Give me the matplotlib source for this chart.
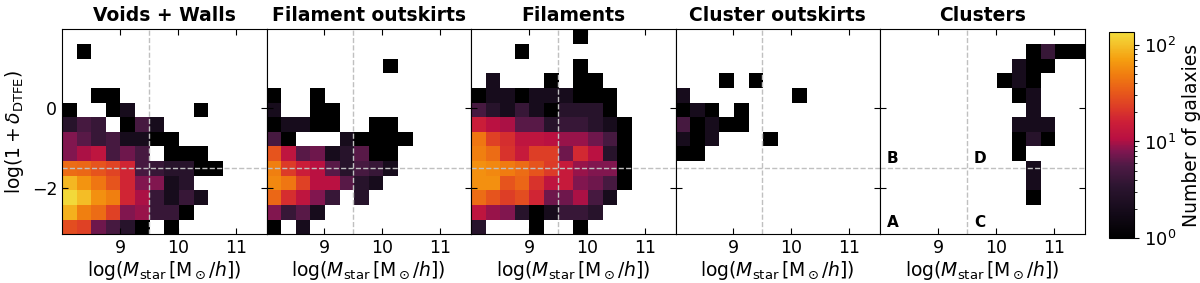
import numpy as np
import matplotlib
matplotlib.use('Agg')
import matplotlib.pyplot as plt
from matplotlib.colors import LogNorm, LinearSegmentedColormap

# panel titles
titles = ['Voids + Walls', 'Filament outskirts', 'Filaments', 'Cluster outskirts', 'Clusters']

# bin edges of the 2d histograms (14 x 14 bins)
mass_lo, mass_hi = 8.0, 11.53
dens_lo, dens_hi = -3.15, 1.975
n_bins = 14

# galaxy counts per bin, rows from top (high density) to bottom, columns low -> high mass
voids_walls = [
    [0, 0, 0, 0, 0, 0, 0, 0, 0, 0, 0, 0, 0, 0],
    [0, 1, 0, 0, 0, 0, 0, 0, 0, 0, 0, 0, 0, 0],
    [0, 0, 0, 0, 0, 0, 0, 0, 0, 0, 0, 0, 0, 0],
    [0, 0, 0, 0, 0, 0, 0, 0, 0, 0, 0, 0, 0, 0],
    [0, 0, 1, 1, 0, 0, 0, 0, 0, 0, 0, 0, 0, 0],
    [1, 0, 0, 1, 2, 0, 0, 0, 0, 1, 0, 0, 0, 0],
    [3, 5, 4, 0, 1, 5, 2, 0, 0, 0, 0, 0, 0, 0],
    [8, 6, 4, 5, 2, 2, 1, 1, 0, 0, 0, 0, 0, 0],
    [8, 10, 12, 5, 7, 5, 0, 1, 1, 1, 0, 0, 0, 0],
    [40, 38, 30, 25, 17, 5, 4, 3, 3, 1, 1, 0, 0, 0],
    [90, 62, 45, 30, 17, 8, 8, 2, 3, 0, 0, 0, 0, 0],
    [130, 95, 60, 50, 17, 10, 4, 2, 4, 2, 0, 0, 0, 0],
    [85, 50, 40, 24, 8, 9, 4, 4, 1, 0, 0, 0, 0, 0],
    [28, 24, 7, 5, 3, 1, 0, 1, 0, 0, 0, 0, 0, 0],
]

filament_outskirts = [
    [0, 0, 0, 0, 0, 0, 0, 0, 0, 0, 0, 0, 0, 0],
    [0, 0, 0, 0, 0, 0, 0, 0, 0, 0, 0, 0, 0, 0],
    [0, 0, 0, 0, 0, 0, 0, 0, 1, 0, 0, 0, 0, 0],
    [0, 0, 0, 0, 0, 0, 0, 0, 0, 0, 0, 0, 0, 0],
    [1, 0, 0, 1, 0, 0, 0, 0, 0, 0, 0, 0, 0, 0],
    [2, 0, 0, 1, 1, 0, 0, 0, 0, 0, 0, 0, 0, 0],
    [1, 2, 2, 1, 1, 0, 0, 1, 1, 0, 0, 0, 0, 0],
    [5, 1, 0, 0, 0, 2, 1, 1, 1, 1, 0, 0, 0, 0],
    [30, 12, 6, 7, 2, 3, 6, 1, 1, 0, 0, 0, 0, 0],
    [50, 22, 15, 11, 6, 3, 5, 4, 2, 0, 0, 0, 0, 0],
    [55, 45, 24, 11, 11, 6, 3, 2, 0, 0, 0, 0, 0, 0],
    [38, 19, 12, 8, 4, 0, 3, 0, 0, 0, 0, 0, 0, 0],
    [8, 4, 6, 2, 0, 0, 0, 0, 0, 0, 0, 0, 0, 0],
    [1, 0, 2, 0, 0, 0, 0, 0, 0, 0, 0, 0, 0, 0],
]

filaments = [
    [0, 0, 0, 0, 0, 0, 0, 1, 0, 0, 0, 0, 0, 0],
    [0, 0, 0, 1, 0, 0, 0, 0, 0, 0, 0, 0, 0, 0],
    [0, 0, 0, 0, 0, 0, 0, 1, 0, 0, 0, 0, 0, 0],
    [0, 2, 0, 0, 0, 1, 0, 1, 1, 0, 0, 0, 0, 0],
    [1, 2, 2, 1, 2, 2, 2, 1, 1, 1, 0, 0, 0, 0],
    [5, 3, 2, 4, 2, 1, 3, 3, 3, 1, 0, 0, 0, 0],
    [15, 11, 10, 6, 6, 3, 4, 4, 3, 2, 1, 0, 0, 0],
    [45, 24, 19, 12, 12, 11, 9, 9, 7, 5, 1, 0, 0, 0],
    [50, 40, 20, 14, 23, 23, 7, 18, 11, 3, 1, 0, 0, 0],
    [60, 55, 48, 40, 30, 22, 14, 9, 8, 8, 1, 0, 0, 0],
    [60, 60, 30, 37, 20, 12, 14, 8, 7, 5, 1, 0, 0, 0],
    [40, 30, 23, 28, 17, 7, 7, 10, 5, 2, 0, 0, 0, 0],
    [12, 9, 8, 3, 1, 2, 4, 4, 3, 0, 0, 0, 0, 0],
    [3, 0, 0, 0, 1, 0, 0, 1, 0, 0, 0, 0, 0, 0],
]

cluster_outskirts = [
    [0, 0, 0, 0, 0, 0, 0, 0, 0, 0, 0, 0, 0, 0],
    [0, 0, 0, 0, 0, 0, 0, 0, 0, 0, 0, 0, 0, 0],
    [0, 0, 0, 0, 0, 0, 0, 0, 0, 0, 0, 0, 0, 0],
    [0, 0, 0, 1, 0, 1, 0, 0, 0, 0, 0, 0, 0, 0],
    [2, 0, 0, 0, 0, 0, 0, 0, 1, 0, 0, 0, 0, 0],
    [1, 2, 1, 0, 1, 0, 0, 0, 0, 0, 0, 0, 0, 0],
    [5, 1, 2, 1, 1, 0, 0, 0, 0, 0, 0, 0, 0, 0],
    [2, 1, 2, 0, 0, 0, 1, 0, 0, 0, 0, 0, 0, 0],
    [1, 1, 0, 0, 0, 0, 0, 0, 0, 0, 0, 0, 0, 0],
    [0, 0, 0, 0, 0, 0, 0, 0, 0, 0, 0, 0, 0, 0],
    [0, 0, 0, 0, 0, 0, 0, 0, 0, 0, 0, 0, 0, 0],
    [0, 0, 0, 0, 0, 0, 0, 0, 0, 0, 0, 0, 0, 0],
    [0, 0, 0, 0, 0, 0, 0, 0, 0, 0, 0, 0, 0, 0],
    [0, 0, 0, 0, 0, 0, 0, 0, 0, 0, 0, 0, 0, 0],
]

clusters = [
    [0, 0, 0, 0, 0, 0, 0, 0, 0, 0, 0, 0, 0, 0],
    [0, 0, 0, 0, 0, 0, 0, 0, 0, 0, 1, 4, 1, 1],
    [0, 0, 0, 0, 0, 0, 0, 0, 0, 2, 1, 1, 0, 0],
    [0, 0, 0, 0, 0, 0, 0, 0, 1, 2, 1, 0, 0, 0],
    [0, 0, 0, 0, 0, 0, 0, 0, 0, 1, 2, 0, 0, 0],
    [0, 0, 0, 0, 0, 0, 0, 0, 0, 0, 2, 0, 0, 0],
    [0, 0, 0, 0, 0, 0, 0, 0, 0, 2, 2, 2, 0, 0],
    [0, 0, 0, 0, 0, 0, 0, 0, 0, 1, 3, 1, 0, 0],
    [0, 0, 0, 0, 0, 0, 0, 0, 0, 1, 0, 0, 0, 0],
    [0, 0, 0, 0, 0, 0, 0, 0, 0, 0, 2, 0, 0, 0],
    [0, 0, 0, 0, 0, 0, 0, 0, 0, 0, 2, 0, 0, 0],
    [0, 0, 0, 0, 0, 0, 0, 0, 0, 0, 1, 0, 0, 0],
    [0, 0, 0, 0, 0, 0, 0, 0, 0, 0, 0, 0, 0, 0],
    [0, 0, 0, 0, 0, 0, 0, 0, 0, 0, 0, 0, 0, 0],
]

# quadrant labels in the last panel
quad_labels = ['A', 'B', 'C', 'D']
quad_x = [8.12, 8.12, 9.62, 9.62]
quad_y = [-2.85, -1.25, -2.85, -1.25]

mass_cut = 9.5
dens_cut = -1.5

panels = [voids_walls, filament_outskirts, filaments, cluster_outskirts, clusters]

# colormap (black -> purple -> crimson -> orange -> yellow)
cmap = LinearSegmentedColormap.from_list('heat', [
    (0.00, '#000000'), (0.12, '#130a18'), (0.25, '#2c1530'), (0.35, '#4e1a45'),
    (0.42, '#7e1650'), (0.48, '#b81042'), (0.56, '#cc1e38'), (0.63, '#dc3a28'),
    (0.71, '#e85a1a'), (0.79, '#f07c10'), (0.87, '#f5a010'), (0.94, '#f4c22a'),
    (1.00, '#f2dc3c')])
norm = LogNorm(vmin=1, vmax=136)

xedges = np.linspace(mass_lo, mass_hi, n_bins + 1)
yedges = np.linspace(dens_lo, dens_hi, n_bins + 1)

fig = plt.figure(figsize=(12, 2.83), dpi=100)
left, width = 0.0517, 0.17042
bottom, height = 0.172, 0.7245

for i, (counts, title) in enumerate(zip(panels, titles)):
    ax = fig.add_axes([left + i * width, bottom, width, height])
    grid = np.array(counts, dtype=float)[::-1]
    grid[grid <= 0] = np.nan
    mesh = ax.pcolormesh(xedges, yedges, grid, cmap=cmap, norm=norm)
    ax.axvline(mass_cut, color='#c0c0c0', ls='--', lw=1)
    ax.axhline(dens_cut, color='#c0c0c0', ls='--', lw=1)
    ax.set_xlim(mass_lo, mass_hi)
    ax.set_ylim(dens_lo, dens_hi)
    ax.set_xticks([9, 10, 11])
    ax.set_yticks([-2, 0])
    ax.tick_params(direction='in', top=True, right=True, labelsize=12.5, length=4)
    ax.set_title(title, fontsize=13.5, fontweight='bold')
    ax.set_xlabel(r'$\log(M_{\rm star}\,[{\rm M}_\odot/h])$', fontsize=13.5, labelpad=1)
    if i == 0:
        ax.set_ylabel(r'$\log(1+\delta_{\rm DTFE})$', fontsize=13.5)
    else:
        ax.set_yticklabels([])
    if i == len(panels) - 1:
        for lab, qx, qy in zip(quad_labels, quad_x, quad_y):
            ax.text(qx, qy, lab, fontsize=11, fontweight='bold', va='center')

cax = fig.add_axes([0.9244, 0.158, 0.0206, 0.730])
cb = fig.colorbar(mesh, cax=cax)
cb.set_label('Number of galaxies', fontsize=13.5)
cb.ax.tick_params(labelsize=13)

fig.savefig('out.png', dpi=100)
